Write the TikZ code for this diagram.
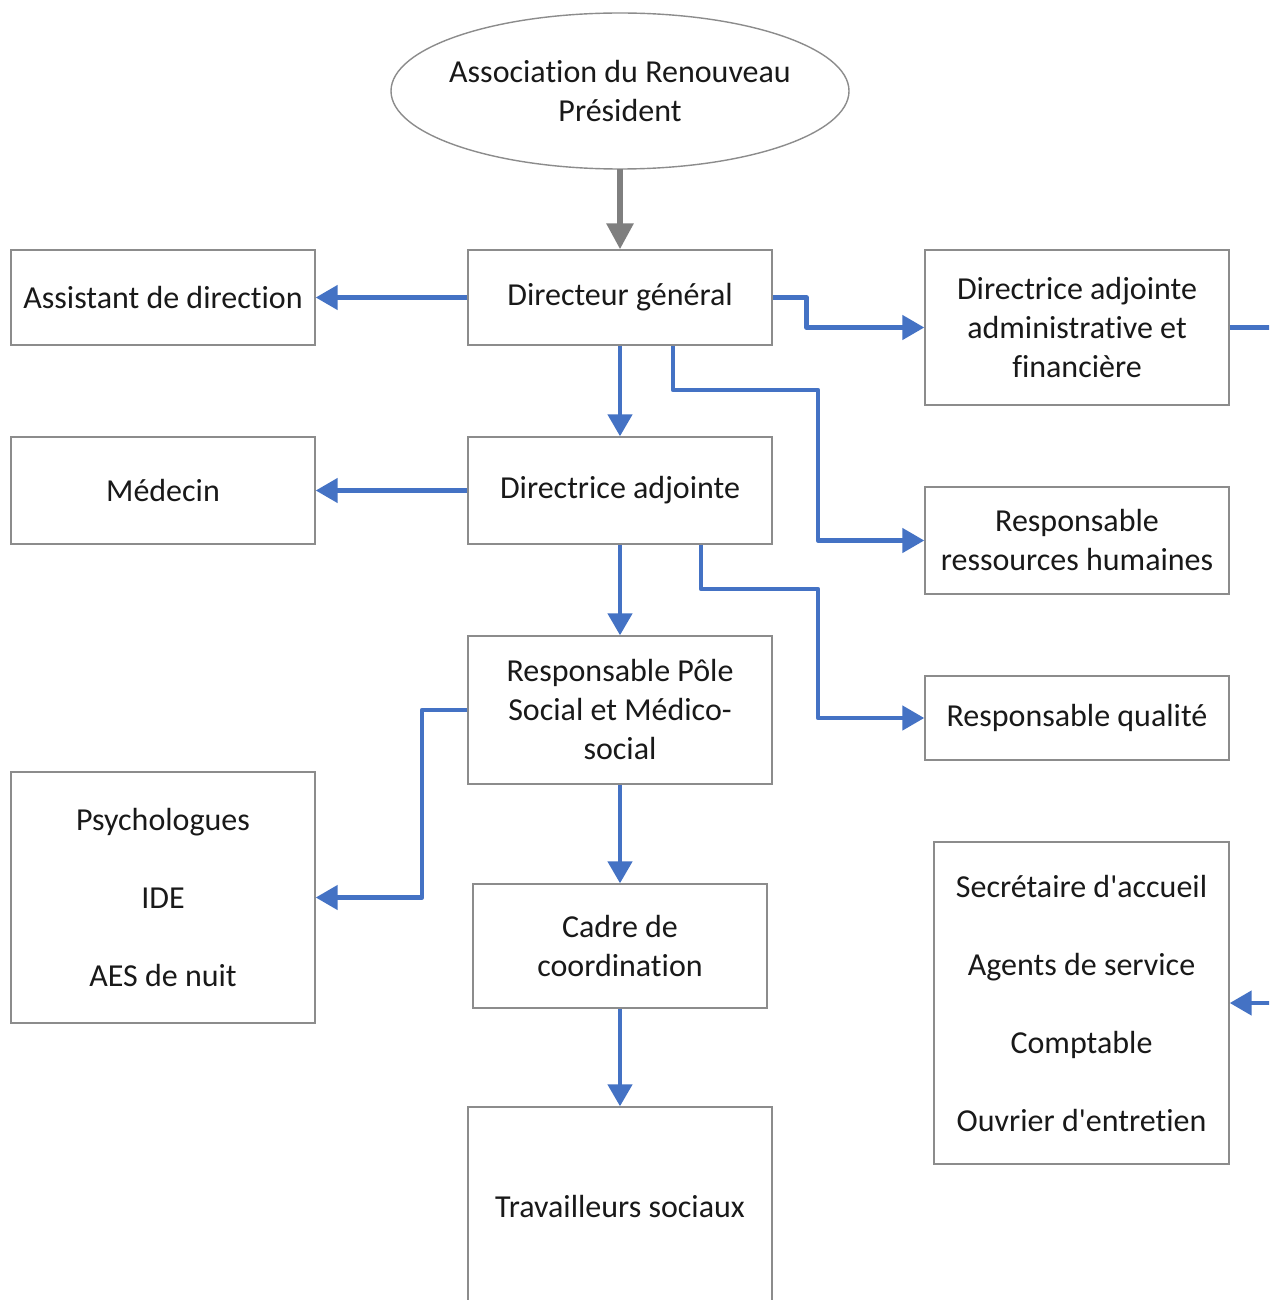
\documentclass[tikz,border=0pt]{standalone}
\usepackage{fontspec}
\setmainfont{Carlito}[Ligatures={CommonOff,TeXOff}]
\usetikzlibrary{arrows.meta,shapes.geometric}
\definecolor{cblue}{HTML}{4472C4}
\definecolor{cgray}{HTML}{7F7F7F}
\definecolor{cborder}{HTML}{8C8C8C}
\begin{document}
\begin{tikzpicture}[x=0.5pt,y=-0.5pt,
  box/.style={draw=cborder,line width=0.7pt,rectangle,inner sep=2pt,align=center,
    font=\fontsize{16}{19.5}\selectfont,text=black!90},
  conn/.style={draw=cblue,line width=2.3pt,line join=round,
    -{Triangle[length=11pt,width=12pt]}},
  gconn/.style={draw=cgray,line width=3pt,-{Triangle[length=13pt,width=13pt]}}]
\useasboundingbox (0,0) rectangle (1269,1300);
\clip (0,0) rectangle (1269,1300);
\fill[white] (0,0) rectangle (1269,1300);
% nodes
\draw[draw=cborder,line width=0.7pt] (620,91) ellipse [x radius=114.5pt, y radius=39pt];
\node[align=center,font=\fontsize{16}{19.5}\selectfont,text=black!90] (asso) at (620,91) {Association du Renouveau\\Président};
\coordinate (assobot) at (620,169);
\node[box,minimum width=152pt,minimum height=47.5pt] (dg) at (620,297.5) {Directeur général};
\node[box,minimum width=152pt,minimum height=47.5pt] (asst) at (163,297.5) {Assistant de direction};
\node[box,minimum width=152pt,minimum height=77.5pt] (daaf) at (1077,327.5) {Directrice adjointe\\administrative et\\financière};
\node[box,minimum width=152pt,minimum height=53.5pt] (da) at (620,490.5) {Directrice adjointe};
\node[box,minimum width=152pt,minimum height=53.5pt] (med) at (163,490.5) {Médecin};
\node[box,minimum width=152pt,minimum height=53.5pt] (rh) at (1077,540.5) {Responsable\\ressources humaines};
\node[box,minimum width=152pt,minimum height=74pt] (rp) at (620,710) {Responsable Pôle\\Social et Médico-\\social};
\node[box,minimum width=152pt,minimum height=42pt] (rq) at (1077,718) {Responsable qualité};
\node[box,minimum width=152pt,minimum height=125.5pt] (psy) at (163,897.5) {Psychologues\\[19.5pt]IDE\\[19.5pt]AES de nuit};
\node[box,minimum width=147pt,minimum height=62pt] (cadre) at (620,946) {Cadre de\\coordination};
\node[box,minimum width=147.5pt,minimum height=161pt] (sec) at (1081.5,1003) {Secrétaire d'accueil\\[19.5pt]Agents de service\\[19.5pt]Comptable\\[19.5pt]Ouvrier d'entretien};
\node[box,minimum width=152pt,minimum height=99pt] (ts) at (620,1206) {Travailleurs sociaux};
% helper coordinates
\coordinate (k1) at (818,390);
\coordinate (k2) at (818,589);
\coordinate (k3) at (422,710);
\coordinate (k4) at (1300,327.5);
% connectors
\draw[gconn] (assobot) -- (dg.north);
\draw[conn] (dg.west) -- (asst.east);
\draw[conn] (dg.east) -- ++(34,0) |- (daaf.west);
\draw[conn] (dg.south) -- (da.north);
\draw[conn] ([xshift=26.5pt]dg.south) |- (k1) |- (rh.west);
\draw[conn] (da.west) -- (med.east);
\draw[conn] (da.south) -- (rp.north);
\draw[conn] ([xshift=40.5pt]da.south) |- (k2) |- (rq.west);
\draw[conn] (rp.west) -- (k3) |- (psy.east);
\draw[conn] (rp.south) -- (cadre.north);
\draw[conn] (cadre.south) -- (ts.north);
\draw[conn] (daaf.east) -- (k4) |- (sec.east);
\end{tikzpicture}
\end{document}
